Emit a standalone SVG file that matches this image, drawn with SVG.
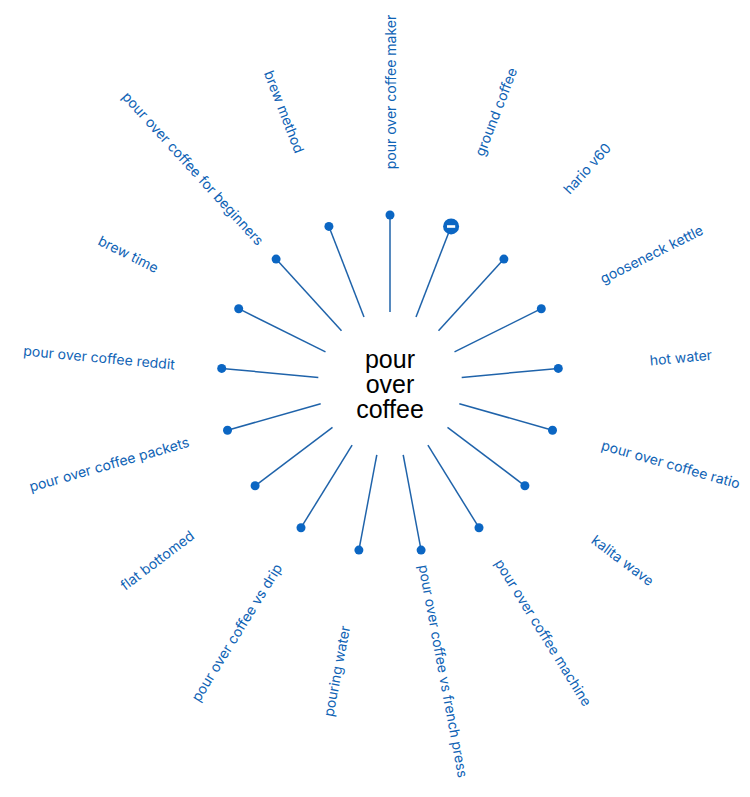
<svg xmlns="http://www.w3.org/2000/svg" width="750" height="797" viewBox="0 0 750 797">
<style>
.bg{fill:#ffffff}
.link{stroke:#1f63aa;stroke-width:1.5;fill:none}
.dot{fill:#0b66c3}
.lbl{font-family:Inter,"Noto Sans","Liberation Sans",sans-serif;font-size:14px;fill:#0f63b5;text-anchor:middle;dominant-baseline:central}
.root{font-family:"Liberation Sans",Arial,sans-serif;font-size:25px;fill:#000000;text-anchor:middle}
</style>
<rect class="bg" x="0" y="0" width="750" height="797"/>
<g id="connectors">
<line class="link" x1="390" y1="312" x2="390" y2="215"/>
<line class="link" x1="416" y1="316.9" x2="451.1" y2="226.4"/>
<line class="link" x1="438.5" y1="330.8" x2="503.9" y2="259.1"/>
<line class="link" x1="454.5" y1="351.9" x2="541.3" y2="308.7"/>
<line class="link" x1="461.7" y1="377.4" x2="558.3" y2="368.4"/>
<line class="link" x1="459.3" y1="403.7" x2="552.5" y2="430.2"/>
<line class="link" x1="447.5" y1="427.4" x2="524.9" y2="485.8"/>
<line class="link" x1="427.9" y1="445.2" x2="479" y2="527.7"/>
<line class="link" x1="403.2" y1="454.8" x2="421.1" y2="550.1"/>
<line class="link" x1="376.8" y1="454.8" x2="358.9" y2="550.1"/>
<line class="link" x1="352.1" y1="445.2" x2="301" y2="527.7"/>
<line class="link" x1="332.5" y1="427.4" x2="255.1" y2="485.8"/>
<line class="link" x1="320.7" y1="403.7" x2="227.5" y2="430.2"/>
<line class="link" x1="318.3" y1="377.4" x2="221.7" y2="368.4"/>
<line class="link" x1="325.5" y1="351.9" x2="238.7" y2="308.7"/>
<line class="link" x1="341.5" y1="330.8" x2="276.1" y2="259.1"/>
<line class="link" x1="364" y1="316.9" x2="328.9" y2="226.4"/>
</g>
<g id="root">
<text class="root" x="390" y="368">pour<tspan x="390" dy="25">over</tspan><tspan x="390" dy="24.5">coffee</tspan></text>
</g>
<g id="n0"><circle class="dot" cx="390" cy="215" r="4.5"/><text class="lbl" transform="translate(390,92) rotate(-90)">pour over coffee maker</text></g>
<g id="n1"><circle class="dot" cx="451.1" cy="226.4" r="8"/><rect x="447" y="225.2" width="8.2" height="2.6" fill="#ffffff"/><text class="lbl" transform="translate(495.5,111.7) rotate(-68.82)">ground coffee</text></g>
<g id="n2"><circle class="dot" cx="503.9" cy="259.1" r="4.5"/><text class="lbl" transform="translate(586.7,168.2) rotate(-47.65)">hario v60</text></g>
<g id="n3"><circle class="dot" cx="541.3" cy="308.7" r="4.5"/><text class="lbl" transform="translate(651.4,253.8) rotate(-26.47)">gooseneck kettle</text></g>
<g id="n4"><circle class="dot" cx="558.3" cy="368.4" r="4.5"/><text class="lbl" transform="translate(680.8,357.1) rotate(-5.29)">hot water</text></g>
<g id="n5"><circle class="dot" cx="552.5" cy="430.2" r="4.5"/><text class="lbl" transform="translate(670.9,463.9) rotate(15.88)">pour over coffee ratio</text></g>
<g id="n6"><circle class="dot" cx="524.9" cy="485.8" r="4.5"/><text class="lbl" transform="translate(623,560) rotate(37.06)">kalita wave</text></g>
<g id="n7"><circle class="dot" cx="479" cy="527.7" r="4.5"/><text class="lbl" transform="translate(543.7,632.3) rotate(58.24)">pour over coffee machine</text></g>
<g id="n8"><circle class="dot" cx="421.1" cy="550.1" r="4.5"/><text class="lbl" transform="translate(443.7,671) rotate(79.41)">pour over coffee vs french press</text></g>
<g id="n9"><circle class="dot" cx="358.9" cy="550.1" r="4.5"/><text class="lbl" transform="translate(336.3,671) rotate(-79.41)">pouring water</text></g>
<g id="n10"><circle class="dot" cx="301" cy="527.7" r="4.5"/><text class="lbl" transform="translate(236.3,632.3) rotate(-58.24)">pour over coffee vs drip</text></g>
<g id="n11"><circle class="dot" cx="255.1" cy="485.8" r="4.5"/><text class="lbl" transform="translate(157,560) rotate(-37.06)">flat bottomed</text></g>
<g id="n12"><circle class="dot" cx="227.5" cy="430.2" r="4.5"/><text class="lbl" transform="translate(109.1,463.9) rotate(-15.88)">pour over coffee packets</text></g>
<g id="n13"><circle class="dot" cx="221.7" cy="368.4" r="4.5"/><text class="lbl" transform="translate(99.2,357.1) rotate(5.29)">pour over coffee reddit</text></g>
<g id="n14"><circle class="dot" cx="238.7" cy="308.7" r="4.5"/><text class="lbl" transform="translate(128.6,253.8) rotate(26.47)">brew time</text></g>
<g id="n15"><circle class="dot" cx="276.1" cy="259.1" r="4.5"/><text class="lbl" transform="translate(193.3,168.2) rotate(47.65)">pour over coffee for beginners</text></g>
<g id="n16"><circle class="dot" cx="328.9" cy="226.4" r="4.5"/><text class="lbl" transform="translate(284.5,111.7) rotate(68.82)">brew method</text></g>
</svg>
